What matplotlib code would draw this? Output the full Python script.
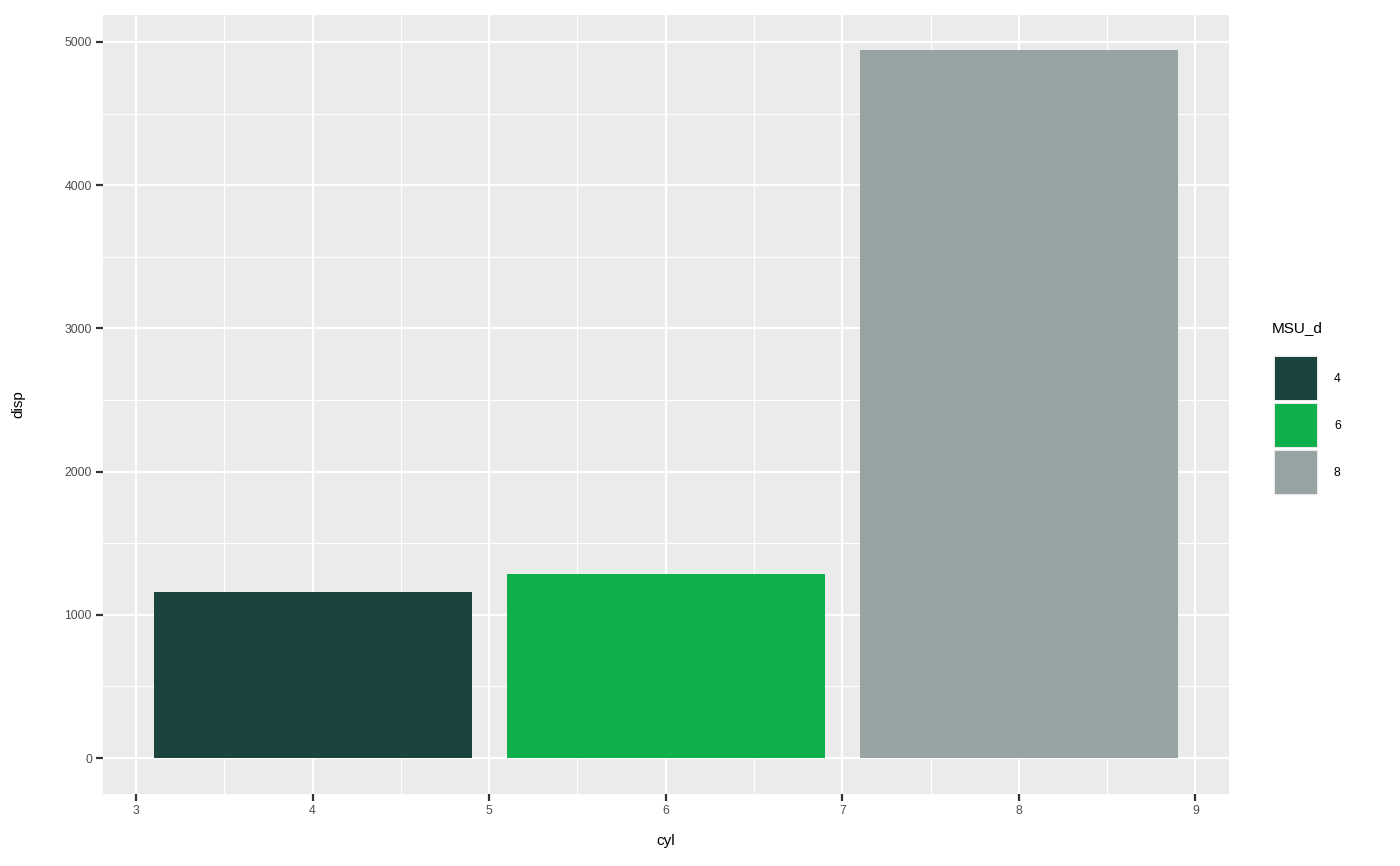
import matplotlib.pyplot as plt
from matplotlib.patches import Rectangle
import numpy as np

# суммы disp по числу цилиндров
cyl = [4, 6, 8]
disp = [1156.5, 1283.2, 4943.4]
colors = ['#1A443D', '#0DB04B', '#98A4A3']
labels = ['4', '6', '8']

plt.rcParams['font.family'] = ['Liberation Sans', 'DejaVu Sans']

fig = plt.figure(figsize=(14, 8.66), dpi=100)
ax = fig.add_axes([103/1400, 1 - 794/866, (1229 - 103)/1400, (794 - 15)/866])
ax.set_facecolor('#EBEBEB')

# ggplot-подобная сетка
ax.set_xticks(np.arange(3, 10, 1))
ax.set_xticks(np.arange(3.5, 9, 1), minor=True)
ax.set_yticks(np.arange(0, 5001, 1000))
ax.set_yticks(np.arange(500, 5001, 1000), minor=True)
ax.grid(which='major', color='white', linewidth=1.6)
ax.grid(which='minor', color='white', linewidth=0.8)
ax.set_axisbelow(True)

ax.bar(cyl, disp, width=1.8, color=colors, zorder=3)

ax.set_xlim(2.813, 9.19)
ax.set_ylim(-251, 5188)
for s in ax.spines.values():
    s.set_visible(False)
ax.tick_params(which='major', length=5, width=1.6, color='#333333',
               labelsize=8.8, labelcolor='#4D4D4D', pad=3)
ax.tick_params(which='minor', length=0)

ax.set_xlabel('cyl', fontsize=11, labelpad=12)
ax.set_ylabel('disp', fontsize=11, labelpad=28)

# легенда вручную, как в ggplot
lax = fig.add_axes([0, 0, 1, 1])
lax.set_xlim(0, 1400)
lax.set_ylim(866, 0)
lax.axis('off')
lax.text(1272, 328, 'MSU_d', fontsize=11, va='center', ha='left')
for i, (c, lab) in enumerate(zip(colors, labels)):
    y0 = 355 + i * 47
    lax.add_patch(Rectangle((1273, y0), 46, 47, facecolor='#EBEBEB', edgecolor='white', linewidth=1.2))
    lax.add_patch(Rectangle((1275, y0 + 2), 42, 43, facecolor=c, edgecolor='none'))
    lax.text(1334, y0 + 24, lab, fontsize=8.8, va='center', ha='left')

fig.savefig('out.png', dpi=100)
